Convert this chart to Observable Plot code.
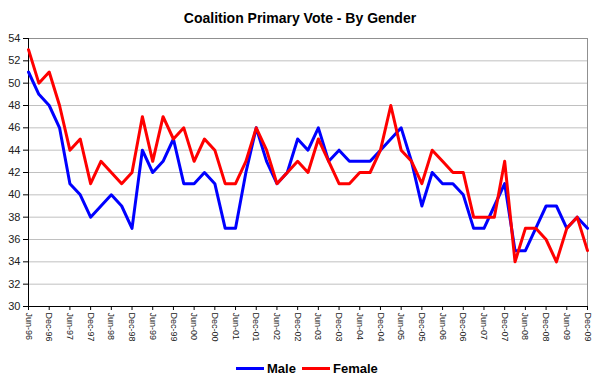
<!DOCTYPE html>
<html>
<head>
<meta charset="utf-8">
<script src="https://cdn.jsdelivr.net/npm/d3@7"></script>
<script src="https://cdn.jsdelivr.net/npm/@observablehq/plot@0.6"></script>
<style>
  html, body { margin: 0; padding: 0; background: #fff; }
  body { width: 600px; height: 380px; position: relative; overflow: hidden;
         font-family: Arial, "Liberation Sans", sans-serif; }
  #title { position: absolute; left: 0; top: 10px; width: 600px; text-align: center;
           font-size: 14px; font-weight: bold; line-height: 16px; color: #000; }
  #chart { position: absolute; left: 0; top: 30px; }
  #legend { position: absolute; top: 361px; left: 0; width: 600px; height: 16px;
            font-size: 13px; font-weight: bold; line-height: 16px; color: #000; }
  .item { position: absolute; top: 0; white-space: nowrap; }
  .swatch { display: inline-block; width: 28px; height: 3px; vertical-align: middle; margin-right: 3px; position: relative; top: -1px; }
</style>
</head>
<body>
<div id="title">Coalition Primary Vote - By Gender</div>
<div id="chart"></div>
<div id="legend"></div>
<script>
// Half-yearly tick labels (each quarter is one data point)
const tickLabels = ["Jun-96","Dec-96","Jun-97","Dec-97","Jun-98","Dec-98","Jun-99","Dec-99",
  "Jun-00","Dec-00","Jun-01","Dec-01","Jun-02","Dec-02","Jun-03","Dec-03","Jun-04","Dec-04",
  "Jun-05","Dec-05","Jun-06","Dec-06","Jun-07","Dec-07","Jun-08","Dec-08","Jun-09","Dec-09"];

// Quarterly primary vote, Jun-96 .. Dec-09
const male = [51,49,48,46,41,40,38,39,40,39,37,44,42,43,45,41,41,42,41,37,37,42,46,43,41,42,45,44,
  46,43,44,43,43,43,44,45,46,43,39,42,41,41,40,37,37,39,41,35,35,37,39,39,37,38,37];
const female = [53,50,51,48,44,45,41,43,42,41,42,47,43,47,45,46,43,45,44,41,41,43,46,44,41,42,43,42,
  45,43,41,41,42,42,44,48,44,43,41,44,43,42,42,38,38,38,43,34,37,37,36,34,37,38,35];

const seriesNames = ["Male", "Female"];
const seriesColors = ["#0000ff", "#ff0000"];
const yTicks = d3.range(30, 55, 2);

const maleData = male.map((v, q) => ({q, v}));
const femaleData = female.map((v, q) => ({q, v}));
const xTicks = tickLabels.map((_, k) => k * 2);
const lastQ = male.length - 1;

const chart = Plot.plot({
  width: 600,
  height: 320,
  marginTop: 8,
  marginBottom: 44,
  marginLeft: 28,
  marginRight: 13,
  style: {fontFamily: "Arial, 'Liberation Sans', sans-serif", background: "white", color: "#222"},
  x: {domain: [0, lastQ], label: null},
  y: {domain: [30, 54], label: null},
  marks: [
    Plot.ruleY(yTicks.slice(1), {stroke: "#c0c0c0", strokeWidth: 1}),
    Plot.ruleY([54], {stroke: "#909090"}),
    Plot.ruleX([lastQ], {stroke: "#909090"}),
    Plot.axisY({ticks: yTicks, tickSize: 5, tickPadding: 3, fontSize: 11, stroke: "#000", label: null}),
    Plot.axisX({ticks: xTicks, tickFormat: i => tickLabels[i / 2], tickRotate: 90, tickSize: 4,
      tickPadding: 2, fontSize: 9, stroke: "#000", label: null}),
    Plot.ruleX([0], {stroke: "#000"}),
    Plot.ruleY([30], {stroke: "#000"}),
    Plot.line(maleData, {x: "q", y: "v", stroke: seriesColors[0], strokeWidth: 3}),
    Plot.line(femaleData, {x: "q", y: "v", stroke: seriesColors[1], strokeWidth: 3})
  ]
});
document.getElementById("chart").appendChild(chart);

const legend = document.getElementById("legend");
const lefts = [236, 302];
seriesNames.forEach((name, k) => {
  const item = document.createElement("span");
  item.className = "item";
  item.style.left = lefts[k] + "px";
  const sw = document.createElement("span");
  sw.className = "swatch";
  sw.style.background = seriesColors[k];
  item.appendChild(sw);
  item.appendChild(document.createTextNode(name));
  legend.appendChild(item);
});
</script>
</body>
</html>
